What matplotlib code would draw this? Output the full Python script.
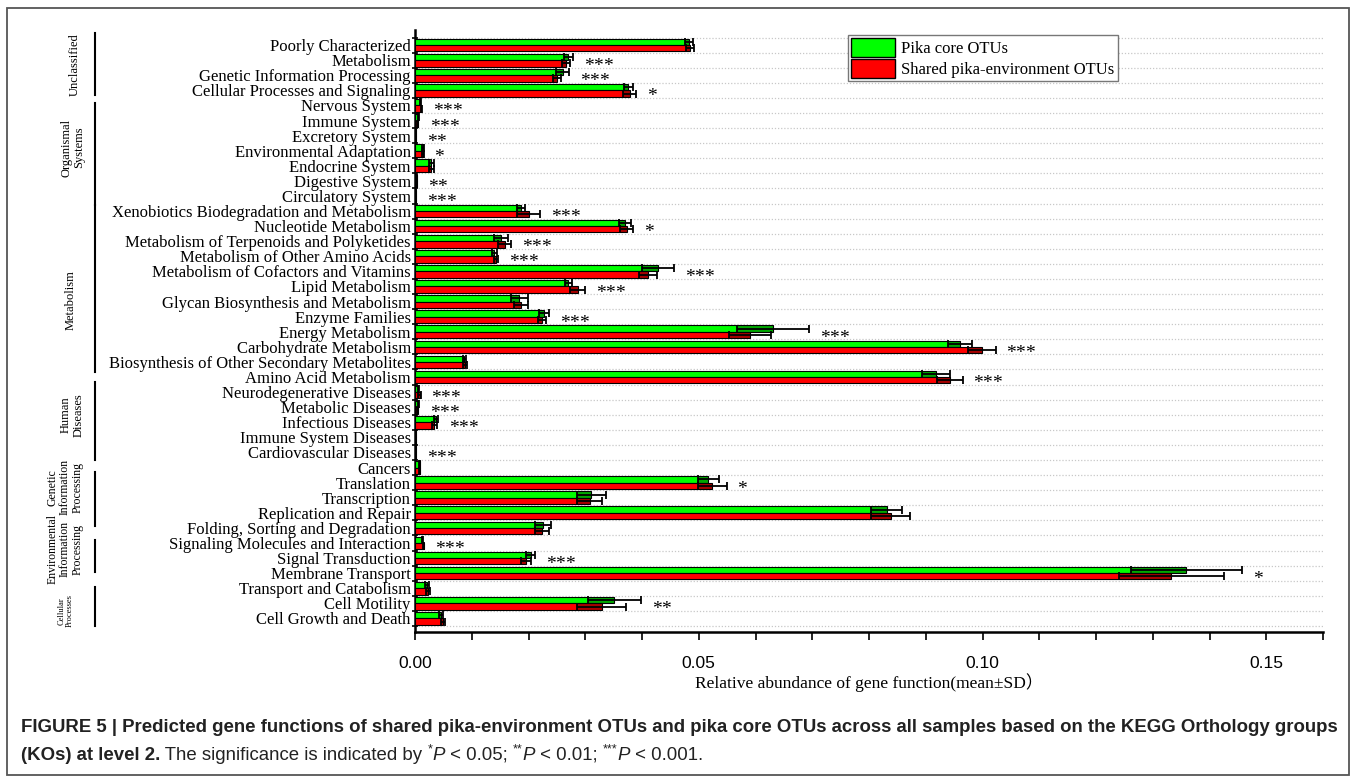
import numpy as np
import matplotlib.pyplot as plt
from matplotlib.patches import Patch, Rectangle
from matplotlib.transforms import blended_transform_factory

# KEGG level-2 functions, top to bottom
categories = [
    'Poorly Characterized', 'Metabolism', 'Genetic Information Processing',
    'Cellular Processes and Signaling', 'Nervous System', 'Immune System',
    'Excretory System', 'Environmental Adaptation', 'Endocrine System',
    'Digestive System', 'Circulatory System',
    'Xenobiotics Biodegradation and Metabolism', 'Nucleotide Metabolism',
    'Metabolism of Terpenoids and Polyketides', 'Metabolism of Other Amino Acids',
    'Metabolism of Cofactors and Vitamins', 'Lipid Metabolism',
    'Glycan Biosynthesis and Metabolism', 'Enzyme Families', 'Energy Metabolism',
    'Carbohydrate Metabolism', 'Biosynthesis of Other Secondary Metabolites',
    'Amino Acid Metabolism', 'Neurodegenerative Diseases', 'Metabolic Diseases',
    'Infectious Diseases', 'Immune System Diseases', 'Cardiovascular Diseases',
    'Cancers', 'Translation', 'Transcription', 'Replication and Repair',
    'Folding, Sorting and Degradation', 'Signaling Molecules and Interaction',
    'Signal Transduction', 'Membrane Transport', 'Transport and Catabolism',
    'Cell Motility', 'Cell Growth and Death',
]

core_mean = [0.0483, 0.0270, 0.0260, 0.0376, 0.0009, 0.0006, 0.0002, 0.0014,
             0.0029, 0.0003, 0.0001, 0.0186, 0.0370, 0.0152, 0.0140, 0.0428,
             0.0270, 0.0184, 0.0228, 0.0631, 0.0961, 0.0087, 0.0918, 0.0006,
             0.0006, 0.0037, 0.0001, 0.0001, 0.0008, 0.0517, 0.0311, 0.0831,
             0.0226, 0.0013, 0.0204, 0.1359, 0.0021, 0.0351, 0.0046]
core_sd = [0.0007, 0.0008, 0.0012, 0.0008, 0.0001, 0.0001, 0.00005, 0.0001,
           0.0004, 0.00005, 0.00005, 0.0007, 0.0010, 0.0012, 0.0004, 0.0028,
           0.0006, 0.0015, 0.0009, 0.0063, 0.0021, 0.0003, 0.0024, 0.0001,
           0.0001, 0.0004, 0.00005, 0.00005, 0.0001, 0.0018, 0.0025, 0.0028,
           0.0014, 0.0001, 0.0008, 0.0098, 0.0003, 0.0047, 0.0003]
shared_mean = [0.0485, 0.0266, 0.0250, 0.0378, 0.0011, 0.0005, 0.0002, 0.0014,
               0.0029, 0.0003, 0.0001, 0.0200, 0.0373, 0.0158, 0.0143, 0.0411,
               0.0287, 0.0187, 0.0223, 0.0590, 0.0999, 0.0088, 0.0942, 0.0008,
               0.0005, 0.0034, 0.0001, 0.0001, 0.0008, 0.0524, 0.0308, 0.0838,
               0.0224, 0.0015, 0.0196, 0.1333, 0.0023, 0.0329, 0.0049]
shared_sd = [0.0007, 0.0007, 0.0007, 0.0012, 0.0001, 0.0001, 0.00005, 0.0001,
             0.0004, 0.00005, 0.00005, 0.0021, 0.0011, 0.0012, 0.0004, 0.0016,
             0.0013, 0.0012, 0.0007, 0.0037, 0.0024, 0.0003, 0.0023, 0.0002,
             0.0001, 0.0004, 0.00005, 0.00005, 0.0001, 0.0025, 0.0022, 0.0034,
             0.0012, 0.0001, 0.0009, 0.0092, 0.0003, 0.0043, 0.0003]
signif = ['', '***', '***', '*', '***', '***', '**', '*', '', '**', '***',
          '***', '*', '***', '***', '***', '***', '', '***', '***', '***', '',
          '***', '***', '***', '***', '', '***', '', '*', '', '', '', '***',
          '***', '*', '', '**', '']

# level-1 groups: (label, first row, last row)
groups = [
    ('Unclassified', 0, 3),
    ('Organismal\nSystems', 4, 10),
    ('Metabolism', 11, 22),
    ('Human\nDiseases', 23, 28),
    ('Genetic\nInformation\nProcessing', 29, 32),
    ('Environmental\nInformation\nProcessing', 33, 35),
    ('Cellular\nProcesses', 36, 38),
]

SERIF = ['Liberation Serif', 'DejaVu Serif']
SANS = ['Liberation Sans', 'DejaVu Sans']

W, H = 1357, 781
fig = plt.figure(figsize=(W / 100, H / 100), dpi=100)
ax = fig.add_axes([415 / W, 1 - 632 / H, 908 / W, 602 / H])

y = np.arange(len(categories))
bh = 0.42
core_mean = np.array(core_mean)
core_sd = np.array(core_sd)
shared_mean = np.array(shared_mean)
shared_sd = np.array(shared_sd)

for off, mean, sd, col in [(-bh / 2, core_mean, core_sd, '#00ff00'),
                           (bh / 2, shared_mean, shared_sd, '#ff0000')]:
    ax.barh(y + off, mean, height=bh, color=col, edgecolor='black',
            linewidth=0.8, zorder=3)
    # darker band between mean-SD and mean
    ax.barh(y + off, sd, left=mean - sd, height=bh, color='black',
            alpha=0.35, linewidth=0, zorder=4)
    ax.errorbar(mean, y + off, xerr=sd, fmt='none', ecolor='black',
                elinewidth=1.3, capsize=2.8, capthick=1.3, zorder=5)

# significance marks; each asterisk grouped so mathtext adds no operator gaps
top = np.maximum(core_mean + core_sd, shared_mean + shared_sd)
for i, s in enumerate(signif):
    if s:
        stars = ''.join('{*}' for _ in s)
        ax.text(top[i] + 0.0019, i + 0.3, r'$\mathregular{%s}$' % stars,
                ha='left', va='center', fontsize=14, family=SERIF)

ax.set_xlim(0, 0.16)
ax.set_ylim(38.9, -1.0)

ax.set_yticks(y)
ax.set_yticklabels(categories, family=SERIF, fontsize=12)
ax.set_yticks(np.arange(-0.5, len(categories)), minor=True)
ax.tick_params(axis='y', which='major', length=0, pad=3)
ax.tick_params(axis='y', which='minor', length=5, width=1.2,
               direction='inout')

ax.set_xticks([0, 0.05, 0.10, 0.15])
ax.set_xticklabels(['0.00', '0.05', '0.10', '0.15'], family=SANS,
                   fontsize=12.5)
ax.set_xticks(np.arange(0, 0.161, 0.01), minor=True)
ax.tick_params(axis='x', which='both', length=6, width=1.2,
               direction='out', pad=11)

for yy in np.arange(-0.5, len(categories)):
    ax.axhline(yy, color='#c8c8c8', lw=0.9, ls=(0, (1, 1.5)), zorder=1)

for side in ['top', 'right']:
    ax.spines[side].set_visible(False)
for side in ['left', 'bottom']:
    ax.spines[side].set_linewidth(1.8)

ax.set_xlabel('Relative abundance of gene function(mean±SD）',
              family=['Liberation Serif', 'Noto Sans CJK SC'], fontsize=12.5,
              labelpad=2)

handles = [Patch(facecolor='#00ff00', edgecolor='black', lw=1),
           Patch(facecolor='#ff0000', edgecolor='black', lw=1)]
leg = ax.legend(handles, ['Pika core OTUs', 'Shared pika-environment OTUs'],
                loc='upper left', bbox_to_anchor=(0.477, 0.992),
                prop={'family': SERIF, 'size': 12}, fancybox=False,
                edgecolor='#777777', framealpha=1, handlelength=2.6,
                handleheight=1.4, labelspacing=0.08, handletextpad=0.4,
                borderpad=0.2, borderaxespad=0)
leg.get_frame().set_linewidth(1.0)

# group brackets on the left
tr = blended_transform_factory(fig.transFigure, ax.transData)
group_line = {
    'Unclassified': (-0.8, 3.3, 1.3, 75, 9),
    'Organismal\nSystems': (3.85, 10.6, 6.8, 73, 9),
    'Metabolism': (10.6, 21.7, 16.9, 71, 9),
    'Human\nDiseases': (22.3, 27.5, 24.5, 72, 9),
    'Genetic\nInformation\nProcessing': (28.3, 31.9, 29.3, 65, 8.5),
    'Environmental\nInformation\nProcessing': (32.8, 34.9, 33.4, 65, 8.5),
    'Cellular\nProcesses': (35.9, 38.5, 37.5, 66, 6.0),
}
for name, first, last in groups:
    y0, y1, yc, xc, fs = group_line[name]
    ax.plot([95 / W, 95 / W], [y0, y1], transform=tr, color='black',
            lw=1.5, clip_on=False)
    ax.text(xc / W, yc, name, transform=tr, rotation=90, ha='center',
            va='center', multialignment='center', fontsize=fs,
            family=SERIF, linespacing=1.05)

# outer frame
fig.add_artist(Rectangle((7 / W, 6 / H), 1342 / W, 767 / H,
                         transform=fig.transFigure, fill=False,
                         edgecolor='#555555', lw=1.3))

# caption
cap_kw = dict(family=SANS, fontsize=13.4, color='#222222')
fig.text(21 / W, 1 - 727 / H,
         'FIGURE 5 | Predicted gene functions of shared pika-environment OTUs '
         'and pika core OTUs across all samples based on the KEGG Orthology '
         'groups', ha='left', va='center', weight='bold', **cap_kw)

parts = [
    (' The significance is indicated by ', 'normal'),
    ('*', 'sup'), ('P', 'italic'), (' < 0.05; ', 'normal'),
    ('**', 'sup'), ('P', 'italic'), (' < 0.01; ', 'normal'),
    ('***', 'sup'), ('P', 'italic'), (' < 0.001.', 'normal'),
]
base = fig.text(21 / W, 1 - 755 / H, '(KOs) at level 2.', ha='left',
                va='center', weight='bold', **cap_kw)
prev = base
for s, style in parts:
    kw = dict(cap_kw)
    yfrac = 0.0
    if style == 'sup':
        kw['fontsize'] = 9
        yfrac = 0.5
    elif style == 'italic':
        kw['style'] = 'italic'
    prev = ax.annotate(s, xy=(1, yfrac), xycoords=(prev, base), ha='left',
                       va='bottom', annotation_clip=False, **kw)

fig.savefig('out.png', dpi=100)
